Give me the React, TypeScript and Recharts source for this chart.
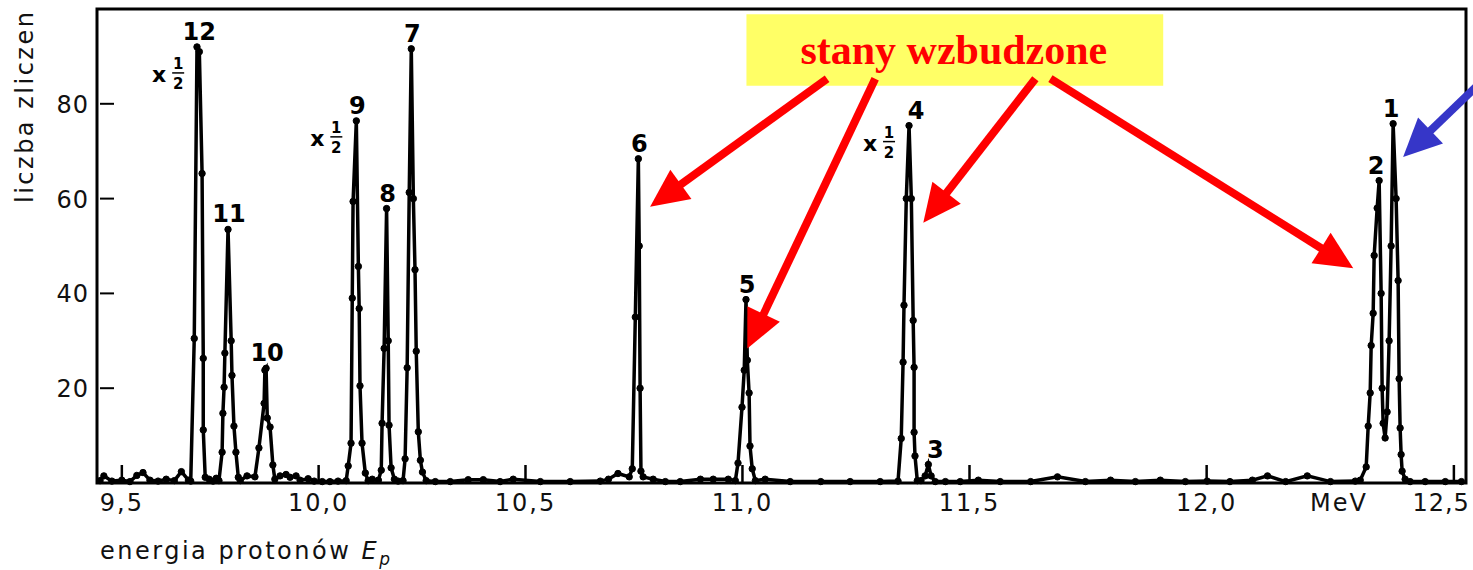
import React from "react";
import {
  LineChart,
  Line,
  XAxis,
  YAxis,
  ReferenceArea,
  ReferenceLine,
  ReferenceDot,
} from "recharts";

// proton energy (MeV) and counts
const energyMeV = [
  9.443, 9.453, 9.474, 9.5, 9.521, 9.539, 9.555, 9.573, 9.594, 9.615, 9.636, 9.654, 9.672,
  9.678, 9.687, 9.694, 9.7, 9.707, 9.71, 9.71, 9.715, 9.725, 9.735, 9.743,
  9.75, 9.758, 9.76, 9.763, 9.765, 9.773, 9.781, 9.783, 9.788, 9.793, 9.799, 9.804, 9.821, 9.841,
  9.851, 9.864, 9.866, 9.869, 9.872, 9.879, 9.886, 9.891, 9.904, 9.919, 9.929, 9.944, 9.954, 9.974,
  9.989, 10.009, 10.028, 10.048,
  10.068, 10.073, 10.08, 10.083, 10.085, 10.093, 10.098, 10.1, 10.102, 10.107, 10.115, 10.122,
  10.132, 10.147,
  10.154, 10.156, 10.161, 10.167, 10.171, 10.173, 10.178, 10.186, 10.195,
  10.207, 10.212, 10.217, 10.222, 10.227, 10.232, 10.236, 10.239, 10.244, 10.249, 10.254, 10.263,
  10.285, 10.321, 10.364, 10.4, 10.44, 10.471, 10.535, 10.605, 10.675, 10.694, 10.716,
  10.742, 10.749, 10.756, 10.763, 10.765, 10.767, 10.769, 10.774, 10.797, 10.825, 10.859, 10.905,
  10.934, 10.968,
  10.984, 10.99, 10.999, 11.004, 11.008, 11.011, 11.015, 11.017, 11.022, 11.029, 11.051, 11.107,
  11.175, 11.24, 11.306,
  11.345, 11.352, 11.356, 11.358, 11.363, 11.369, 11.374, 11.378, 11.38, 11.38, 11.382, 11.387,
  11.395, 11.404, 11.411, 11.417, 11.426, 11.448, 11.48, 11.519, 11.566, 11.631, 11.688, 11.747,
  11.8, 11.852, 11.904, 11.956, 12.001, 12.048, 12.094, 12.125, 12.162, 12.206, 12.253, 12.303,
  12.313, 12.325, 12.329, 12.333, 12.335, 12.339, 12.341, 12.347, 12.351, 12.355, 12.357, 12.359,
  12.363, 12.367, 12.371, 12.375, 12.379, 12.385, 12.389, 12.391, 12.393, 12.395, 12.397, 12.403,
  12.413, 12.443, 12.483, 12.515,
];

const counts = [
  0.5, 1.5, 0.4, 0.6, 0.3, 1.6, 2.2, 0.6, 0.4, 0.8, 0.5, 2.4, 0.6,
  0.4, 30.5, 92, 91, 65.3, 26.3, 11.2, 1.2, 0.8, 0.4, 1.0,
  0.5, 6.5, 14.7, 20.2, 27.4, 53.5, 30, 22.7, 12, 6.5, 1.2, 0.5, 1.5, 1.3,
  7.4, 16.8, 23.8, 24.2, 13.7, 11.8, 3.8, 0.8, 1.5, 1.8, 1.2, 1.5, 0.6, 0.9,
  0.4, 0.3, 0.3, 0.4,
  0.5, 3.6, 8.4, 39, 59.4, 76.4, 45.7, 36.8, 20.5, 8.4, 2.1, 0.5,
  0.8, 0.6,
  2.7, 12.6, 28.4, 57.9, 30, 12.2, 3.2, 0.8, 0.4,
  0.5, 5.1, 24.3, 61.3, 91.6, 60, 45, 27.8, 10.8, 4.8, 2.3, 0.5,
  0.3, 0.3, 0.7, 0.7, 0.3, 0.8, 0.3, 0.3, 0.4, 0.8, 2.0,
  1.3, 3.0, 35, 68.4, 50, 20, 2.5, 1.3, 0.8, 0.3, 0.3, 0.8,
  0.8, 0.8,
  0.5, 4.2, 16, 23.8, 38.7, 25.9, 19, 7.8, 3, 0.5, 0.8, 0.3,
  0.3, 0.3, 0.3,
  0.4, 9.4, 25.5, 37.5, 60, 75.4, 60, 34.3, 24.4, 10.7, 5.7, 0.5,
  0.5, 1.5, 3.9, 1.5, 0.3, 0.3, 0.3, 0.6, 0.3, 0.3, 1.3, 0.3,
  0.6, 0.3, 0.6, 0.3, 0.4, 0.3, 0.6, 1.5, 0.3, 1.5, 0.3, 0.4,
  0.6, 3.4, 12, 19, 29, 35.8, 48, 58, 63.8, 40, 20, 12.6,
  9.5, 15, 30, 50, 75.8, 60, 42.7, 22, 11.6, 6, 2.5, 0.8,
  0.3, 0.3, 0.3, 0.3,
];

const tickEnergies = [9.5, 10, 10.5, 11, 11.5, 12, 12.5];
const tickLabels = ["9,5", "10,0", "10,5", "11,0", "11,5", "12,0", "12,5"];
const unitEnergy = 12.27;
const unitLabel = "MeV";
const countTicks = [20, 40, 60, 80];

const peakNames = ["12", "11", "10", "9", "8", "7", "6", "5", "4", "3", "2", "1"];
const peakEnergies = [9.697, 9.773, 9.869, 10.093, 10.167, 10.227, 10.763, 11.008, 11.369, 11.411, 12.351, 12.379];
const peakCounts = [92, 53.5, 24.2, 76.4, 57.9, 91.6, 68.4, 38.7, 75.4, 3.9, 63.8, 75.8];
const halvedPeaks = ["12", "9", "4"];

const calloutText = "stany wzbudzone";
// callout box and arrows, in (MeV, counts)
const calloutEnergies = [11.009, 11.91];
const calloutCounts = [83.8, 98.9];
const redArrowFrom = [[11.189, 85.3], [11.295, 85.3], [11.641, 85.3], [11.673, 85.3]];
const redArrowTo = [[10.79, 58.3], [11.011, 28.4], [11.4, 54.9], [12.299, 45.3]];
const blueArrowFrom = [12.552, 84.4];
const blueArrowTo = [12.399, 68.8];

const sq = (e: number) => e * e;
const E_MIN = 9.435;
const E_MAX = 12.524;

const data = energyMeV.map((e, i) => ({ e, n: counts[i] }));

const FONT = "DejaVu Sans";

function XTick(props: any) {
  const { x, y, payload } = props;
  const e = Math.sqrt(payload.value);
  const i = tickEnergies.findIndex((t) => Math.abs(t - e) < 0.01);
  const style = { fontFamily: FONT, fontSize: 24, letterSpacing: 2, fill: "#111" };
  if (i < 0) {
    return (
      <text x={x} y={y + 28} textAnchor="middle" style={style}>
        {unitLabel}
      </text>
    );
  }
  const last = i === tickEnergies.length - 1;
  return (
    <g>
      <line x1={x} x2={x} y1={y} y2={y - 18} stroke="#000" strokeWidth={2.5} />
      <text
        x={last ? x + 16 : x}
        y={y + 28}
        textAnchor={last ? "end" : "middle"}
        style={{ ...style, letterSpacing: last ? 1 : 2 }}
      >
        {tickLabels[i]}
      </text>
    </g>
  );
}

function YTick(props: any) {
  const { x, y, payload } = props;
  return (
    <g>
      <line x1={x + 3} x2={x + 17} y1={y} y2={y} stroke="#000" strokeWidth={2} />
      <text
        x={x - 8}
        y={y + 9}
        textAnchor="end"
        style={{ fontFamily: FONT, fontSize: 24, letterSpacing: 1, fill: "#111" }}
      >
        {payload.value}
      </text>
    </g>
  );
}

const labelDx: Record<string, number> = { "4": 7, "3": 7, "2": -3, "1": -2 };

function PeakLabel(props: any) {
  const { cx, cy, name } = props;
  const lx = cx + (labelDx[name] ?? 1);
  const ly = cy - 7;
  const bold = { fontFamily: FONT, fontWeight: 700, fill: "#000" } as const;
  const shift = name === "12" ? 0 : 10;
  return (
    <g>
      <text x={lx} y={ly} textAnchor="middle" style={{ ...bold, fontSize: 24 }}>
        {name}
      </text>
      {halvedPeaks.includes(name) && (
        <g>
          <text x={cx - 39} y={cy + 35 - shift} textAnchor="middle" style={{ ...bold, fontSize: 22 }}>
            x
          </text>
          <text x={cx - 20} y={cy + 22 - shift} textAnchor="middle" style={{ ...bold, fontSize: 15 }}>
            1
          </text>
          <line
            x1={cx - 26}
            x2={cx - 14}
            y1={cy + 26 - shift}
            y2={cy + 26 - shift}
            stroke="#000"
            strokeWidth={1.5}
          />
          <text x={cx - 20} y={cy + 42 - shift} textAnchor="middle" style={{ ...bold, fontSize: 15 }}>
            2
          </text>
        </g>
      )}
    </g>
  );
}

function makeArrow(color: string) {
  return (p: any) => {
    const { x1, y1, x2, y2 } = p;
    const dx = x2 - x1;
    const dy = y2 - y1;
    const len = Math.hypot(dx, dy) || 1;
    const ux = dx / len;
    const uy = dy / len;
    const hl = 38;
    const hw = 18;
    const bx = x2 - ux * hl;
    const by = y2 - uy * hl;
    return (
      <g>
        <line x1={x1} y1={y1} x2={bx + ux * 4} y2={by + uy * 4} stroke={color} strokeWidth={8} />
        <polygon
          points={`${x2},${y2} ${bx - uy * hw},${by + ux * hw} ${bx + uy * hw},${by - ux * hw}`}
          fill={color}
        />
      </g>
    );
  };
}

const redArrow = makeArrow("#ff0000");
const blueArrow = makeArrow("#3636c8");

export default function App() {
  return (
    <div style={{ position: "absolute", left: 0, top: 0, width: 1473, height: 570, background: "#fff" }}>
      <LineChart width={1473} height={570} data={data} margin={{ top: 9, right: 7, bottom: 0, left: 0 }}>
        <XAxis
          type="number"
          dataKey={(d: any) => d.e * d.e}
          domain={[sq(E_MIN), sq(E_MAX)]}
          allowDataOverflow
          ticks={[...tickEnergies, unitEnergy].map(sq)}
          tick={(p: any) => <XTick {...p} />}
          tickSize={0}
          tickMargin={0}
          tickLine={false}
          axisLine={false}
          height={87}
          interval={0}
          label={{
            content: (p: any) => {
              const vb = p.viewBox || { y: 483 };
              return (
                <text
                  x={100}
                  y={vb.y + 76}
                  style={{ fontFamily: FONT, fontSize: 24, letterSpacing: 2.5, fill: "#111" }}
                >
                  energia protonów{" "}
                  <tspan fontStyle="italic">E</tspan>
                  <tspan fontStyle="italic" fontSize={17} dy={6}>
                    p
                  </tspan>
                </text>
              );
            },
          }}
        />
        <YAxis
          type="number"
          domain={[0, 100]}
          ticks={countTicks}
          tick={(p: any) => <YTick {...p} />}
          tickSize={0}
          tickMargin={0}
          tickLine={false}
          axisLine={false}
          width={97}
          interval={0}
          label={{
            content: (p: any) => {
              const vb = p.viewBox || { y: 9 };
              const ty = vb.y + 194;
              return (
                <text
                  x={33}
                  y={ty}
                  transform={`rotate(-90, 33, ${ty})`}
                  style={{ fontFamily: FONT, fontSize: 24, letterSpacing: 2.5, fill: "#111" }}
                >
                  liczba zliczen
                </text>
              );
            },
          }}
        />
        <ReferenceArea
          x1={sq(E_MIN)}
          x2={sq(E_MAX)}
          y1={0}
          y2={100}
          fill="none"
          fillOpacity={0}
          stroke="#000"
          strokeWidth={3}
          ifOverflow="visible"
        />
        <Line
          type="linear"
          dataKey="n"
          stroke="#000"
          strokeWidth={3.5}
          dot={{ r: 3.2, fill: "#000", stroke: "#000", strokeWidth: 1 }}
          activeDot={false}
          isAnimationActive={false}
        />
        {peakNames.map((name, i) => (
          <ReferenceDot
            key={name}
            x={sq(peakEnergies[i])}
            y={peakCounts[i]}
            r={0}
            ifOverflow="visible"
            shape={(p: any) => <PeakLabel {...p} name={name} />}
          />
        ))}
        <ReferenceArea
          x1={sq(calloutEnergies[0])}
          x2={sq(calloutEnergies[1])}
          y1={calloutCounts[0]}
          y2={calloutCounts[1]}
          fill="#ffff66"
          fillOpacity={1}
          stroke="none"
          ifOverflow="visible"
          label={{
            content: (p: any) => {
              const vb = p.viewBox;
              if (!vb) return null;
              return (
                <text
                  x={vb.x + vb.width / 2 - 1}
                  y={vb.y + 50}
                  textAnchor="middle"
                  style={{ fontFamily: "Liberation Serif", fontWeight: 700, fontSize: 42, fill: "#ff0000" }}
                >
                  {calloutText}
                </text>
              );
            },
          }}
        />
        {redArrowFrom.map((from, i) => (
          <ReferenceLine
            key={i}
            segment={[
              { x: sq(from[0]), y: from[1] },
              { x: sq(redArrowTo[i][0]), y: redArrowTo[i][1] },
            ]}
            ifOverflow="visible"
            shape={redArrow}
          />
        ))}
        <ReferenceLine
          segment={[
            { x: sq(blueArrowFrom[0]), y: blueArrowFrom[1] },
            { x: sq(blueArrowTo[0]), y: blueArrowTo[1] },
          ]}
          ifOverflow="visible"
          shape={blueArrow}
        />
      </LineChart>
    </div>
  );
}
